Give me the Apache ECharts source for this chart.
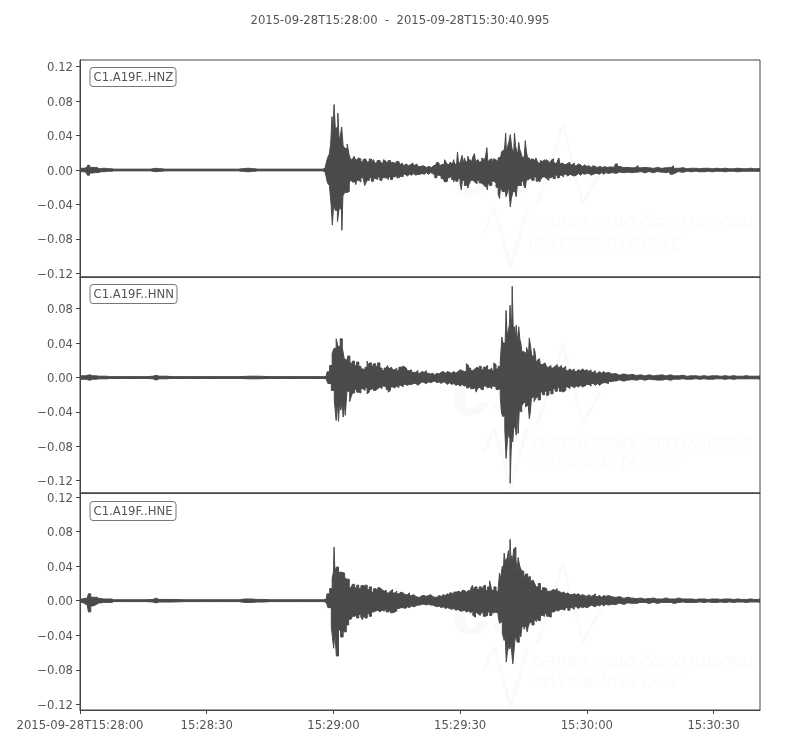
<!DOCTYPE html>
<html><head><meta charset="utf-8">
<style>html,body{margin:0;padding:0;background:#fff}#c{width:800px;height:750px}</style>
<script src="https://cdn.jsdelivr.net/npm/echarts@6/dist/echarts.min.js"></script>
</head><body><div id="c"></div>
<script>
// Envelope of each trace: [seconds after 15:28:00, amplitude in thousandths]
const hiZ=[[0,2],[1,2],[1.6,3],[2,5.5],[2.6,3],[3.5,3],[4.5,1.5],[5.5,2],[6.5,1.5],[7.5,1.5],[8,1],[12,1],[16,1],[17.3,1.5],[18,2],[18.7,1.5],[20,1],[25,1],[30,1],[37,1],[38.2,1.5],[39.5,2],[40.8,1.5],[42,1],[50,1],[57,1],[58,2],[58.4,6],[58.8,14],[59.2,18],[59.5,30],[59.8,62],[60,45],[60.3,76],[60.6,48],[60.9,50],[61.2,66],[61.5,35],[61.8,40],[62.1,50],[62.5,28],[63,25],[63.5,30],[63.9,18],[64.5,13],[65,16],[65.5,11],[66,14],[66.7,10],[67.5,13],[68.2,9],[69,12],[69.8,8],[70.5,11],[71.3,8],[72,12],[72.7,8],[73.5,11],[74.3,7],[75,10],[75.7,8],[76.5,6],[77.3,6.5],[78.2,5],[79,7],[80.4,4],[81.5,5],[82.5,4],[83.6,4.5],[84.2,5],[84.8,8],[85.6,6],[86.4,12],[87,7],[87.5,8],[88.2,7],[88.7,12],[89.2,8],[89.5,21],[90.1,9],[90.7,17],[91.3,10],[91.9,16],[92.6,11],[93.5,19],[94.3,13],[95,10],[95.7,12],[96.4,26],[97.2,12],[98,13],[98.6,11],[99.3,15],[99.8,21],[100.4,20],[100.8,43],[101.1,22],[101.4,27],[102,41],[102.3,25],[102.6,25],[103,43],[103.5,22],[104,32],[104.7,19],[105.2,16],[105.6,34],[106.1,15],[107,13],[108.1,14],[109.2,11],[110.5,12],[111.2,9],[112,13],[113.5,14],[114.4,8],[115.5,9],[116.8,8],[118,7],[120.7,5],[123.1,4],[127,7],[131.8,5],[140.5,5],[161,2]];
const loZ=[[0,-2],[1,-2],[1.5,-3],[2,-6],[2.5,-3.5],[3.5,-3],[5,-2],[6.5,-1.5],[7.5,-1.5],[8,-1],[12,-1],[16,-1],[17.3,-1.5],[18,-2],[18.7,-1.5],[20,-1],[30,-1],[37,-1],[38.2,-1.5],[39.5,-2],[40.8,-1.5],[42,-1],[50,-1],[57,-1],[58,-2],[58.4,-6],[58.8,-15],[59.3,-18],[59.6,-40],[59.9,-64],[60.2,-40],[60.7,-47],[61.2,-60],[61.5,-45],[61.9,-45],[62.1,-70],[62.4,-30],[63,-26],[63.5,-25],[64,-15],[65.3,-17],[67.6,-18],[86.4,-14],[88.7,-14],[90.3,-23],[91.9,-21],[95.8,-19],[96.6,-23],[99.4,-33],[101,-31],[102,-43],[103.3,-31],[105.6,-21],[108.9,-14],[127,-4],[140,-5],[161,-1.5]];
const hiN=[[0,2],[1.4,2],[2,3],[3,2],[4.5,1.5],[6,1.5],[7,1],[14,1],[17.3,1.5],[18,2.5],[18.8,1.5],[22,1],[30,1],[35,1],[40,1.5],[45,1],[52,1],[57,1],[58.3,1.5],[58.7,6.6],[59.5,14],[59.9,28],[60.4,34],[60.9,45],[61.3,36],[61.9,45],[62.3,35],[62.8,22],[63.2,20],[63.6,25],[64.2,18],[68.2,19],[69.2,18],[70.7,17],[72.9,14],[76.5,13],[91.7,16],[98.2,17],[100,47],[100.5,40],[101,78],[101.3,50],[101.6,55],[101.9,84],[102.2,60],[102.4,106],[102.7,60],[102.9,59],[103.3,61],[103.7,40],[104,59],[104.5,40],[105.1,30],[105.7,28],[106.1,32],[106.5,46],[107.1,26],[107.7,34],[108.3,20],[110.1,17],[161,2]];
const loN=[[0,-2],[1.5,-2],[2,-3],[3,-2],[4.5,-1.5],[6,-1.5],[7,-1],[14,-1],[17.3,-1.5],[18,-3],[18.8,-1.5],[22,-1],[30,-1],[35,-1],[40,-1.5],[45,-1],[52,-1],[57,-1],[58.3,-1.5],[59.1,-7],[59.9,-15],[60.5,-26],[60.8,-50],[61.1,-30],[61.3,-51],[61.6,-30],[61.9,-38],[62.2,-28],[62.4,-46],[62.7,-30],[62.9,-44],[63.5,-16],[64.2,-28],[66.2,-19],[68.2,-19],[73.2,-17],[93.9,-17],[99.8,-40],[100.4,-45],[101,-94],[101.4,-60],[101.8,-67],[101.9,-123],[102.3,-70],[102.6,-75],[103.3,-67],[103.7,-36],[104.4,-40],[105.2,-30],[106,-32],[106.5,-48],[107,-24],[108.1,-24],[110.8,-20],[114.4,-17],[161,-2]];
const hiE=[[0,2],[1,2.5],[1.7,3],[2.3,8],[2.8,4],[3.5,4],[4.5,2.5],[5.5,2],[7,2],[8,1],[14,1],[17.3,1.5],[18,3],[18.7,1.5],[25,1],[30,1],[36,1],[39,2],[42,1.5],[45,1],[52,1],[57,1],[58.3,2],[58.7,8],[59.5,14],[59.9,26],[60.1,33],[60.2,62],[60.5,35],[60.9,39],[61.5,33],[62.3,32],[63,27],[63.3,25],[64.2,14],[67,18],[89.1,10],[93.1,18],[95.8,18],[97.2,23],[99.4,32],[100.2,40],[100.6,55],[101.1,44],[101.6,58],[101.9,71],[102.2,45],[102.6,46],[103.2,62],[103.7,32],[104,46],[104.9,34],[106.5,28],[107.7,25],[161,2]];
const loE=[[0,-2],[1,-3],[1.7,-5],[2.3,-13],[2.8,-6],[3.5,-4],[4.5,-2.5],[5.5,-2],[7,-2],[8,-1],[14,-1],[17.3,-1.5],[18,-2.5],[18.7,-1.5],[25,-1],[30,-1],[36,-1],[39,-2],[42,-1.5],[45,-1],[52,-1],[57,-1],[58.3,-2],[59.1,-8],[59.9,-30],[60.2,-55],[60.5,-38],[60.9,-64],[61.5,-34],[61.9,-42],[62.7,-36],[63.4,-28],[63.8,-22],[67,-22],[93.5,-19],[96.2,-19],[99.4,-26],[100.6,-46],[101.1,-71],[101.5,-55],[101.8,-56],[102.7,-73],[103,-50],[103.3,-42],[104.5,-42],[105,-30],[106,-36],[108,-24],[111.4,-19],[161,-2]];
// Finer teeth of each envelope, absolute amplitude: two readings per second from 64 s to 125 s
const midHiZ=[12,15,13,10,13,9,12,14,10,13,9,12,8,11,12,8,10,7,11,8,9,7,10,6,8,5,7,5,6,8,5,7,4,6,5,3,5,4,3,5,6,9,5,8,7,11,6,9,8,6,11,8,12,7,14,9,12,8,15,10,12,9,14,10,15,9,13,8,12,10,14,11,23,28,26,33,30,20,28,18,24,14,16,22,13,10,12,9,11,8,10,12,8,10,7,11,9,7,10,7,8,6,7,9,6,8,5,7,6,4,6,4,5,3,5,4,3,5,4,3,4,3];
const midLoZ=[11,14,10,12,14,9,11,15,12,9,13,10,11,8,12,9,9,11,8,11,8,6,9,7,8,5,7,5,6,4,6,5,5,4,5,3,5,3,4,6,9,6,7,10,9,13,9,7,11,9,13,10,16,12,18,11,17,12,14,16,12,15,17,12,19,14,18,13,15,20,28,19,25,18,27,20,33,25,26,18,18,13,17,12,11,9,12,8,13,10,11,8,10,12,9,7,10,6,9,6,8,5,7,5,6,7,6,4,6,4,5,4,4,6,5,4,4,5,3,5,3,4];
const midHiN=[15,19,14,18,13,10,9,12,14,17,11,16,13,17,11,8,11,13,10,12,9,11,8,12,10,13,11,8,9,6,6,8,5,7,6,8,5,4,5,3,5,4,6,7,5,7,6,5,7,5,7,9,8,7,7,14,11,8,10,12,10,13,9,12,14,9,11,8,15,10,13,18,40,35,50,62,70,55,48,42,45,30,28,35,25,38,24,30,17,22,15,13,15,12,14,11,13,15,12,14,11,13,8,10,8,10,7,9,8,10,8,9,7,9,6,8,5,7,5,7,5,6];
const midLoN=[22,18,14,17,18,13,15,12,17,14,12,15,13,11,13,10,11,14,15,11,12,10,12,9,11,8,9,8,8,7,7,9,7,5,6,7,5,6,5,4,6,5,7,5,6,8,6,8,7,9,8,10,8,10,9,12,10,13,12,14,13,11,14,10,12,11,13,10,11,14,13,22,45,60,78,70,85,60,55,65,38,33,28,34,30,40,22,28,22,26,17,20,16,21,15,19,13,16,12,16,13,15,11,13,10,12,10,11,9,11,10,8,8,10,7,9,7,9,7,6,6,7];
const midHiE=[16,19,15,18,14,17,14,18,13,16,10,14,12,15,13,11,12,9,11,13,9,11,8,10,9,7,7,9,6,7,5,4,4,6,6,5,6,7,5,4,4,6,5,7,6,8,6,9,7,10,8,11,9,12,10,12,11,14,12,16,13,16,14,17,12,16,18,12,16,11,14,25,35,45,50,38,52,60,48,50,40,35,26,31,27,22,24,19,16,20,12,15,14,11,11,13,12,14,11,9,10,8,9,7,7,8,7,8,6,7,6,5,7,5,6,8,5,6,4,6,5,6];
const midLoE=[21,18,17,20,16,19,17,20,15,18,13,12,11,13,11,12,10,13,11,14,13,12,9,8,8,9,7,8,6,7,6,5,5,4,4,5,4,5,5,6,7,6,8,7,9,8,9,10,9,11,10,12,12,11,13,12,14,12,17,13,15,17,14,18,17,13,17,14,13,15,18,24,38,40,60,50,50,60,40,48,38,30,33,28,30,25,28,22,20,23,17,18,15,18,16,13,13,11,12,10,10,11,8,11,8,10,7,9,7,8,7,8,7,5,6,7,5,6,4,6,4,5];
// One reading per second from 125 s to the end
const tailHiZ=[3.5,3,4,3,3,2.5,3,2.5,3,2.5,2,3,2,2.5,3,2,2,2.5,1.5,2,2,1.5,2,2,1.5,2,1.5,2,1.5,1.5,2,1.5,1.5,2,1.5,1.5];
const tailLoZ=[3,3.5,2.5,3,2.5,3,2.5,2,3,2,3,2,2.5,3,2,3.5,2,2.5,1.5,2,1.5,2,2,1.5,2,1.5,1.5,2,1.5,1.5,2,1.5,1.5,1.5,1.5,1.5];
const tailHiN=[4,4.5,3,4,3,3.5,2.5,3,2,3,2,2.5,3,2,3,2,2,2.5,1.5,2,2,1.5,2,1.5,2,2,1.5,2,1.5,2,1.5,1.5,2,1.5,1.5,1.5];
const tailLoN=[4.5,4,3,4,3,2.5,3,2,3,2,2.5,3,3,2,3,2,2,1.5,2,2,1.5,2,1.5,2,2,1.5,1.5,2,1.5,2,1.5,1.5,1.5,1.5,1.5,1.5];
const tailHiE=[4.5,4,4.5,3,4,3,2.5,3,2,2.5,3,2,2,3,2,2,3,2,2,2,1.5,2,2,1.5,2,2,1.5,2,2,1.5,2,1.5,1.5,2,1.5,1.5];
const tailLoE=[4,4.5,3,4,2.5,3,3,2,2,3,2,3,2,2,2,3,2,1.5,2,2,2,1.5,2,1.5,2,2,1.5,2,1.5,2,1.5,1.5,2,1.5,1.5,1.5];
const stations=['C1.A19F..HNZ','C1.A19F..HNN','C1.A19F..HNE'];
const heading='2015-09-28T15:28:00  -  2015-09-28T15:30:40.995';
const yTicks=[-0.12,-0.08,-0.04,0,0.04,0.08,0.12];
const xTicks=[0,30,60,90,120,150];
const xLabels=['2015-09-28T15:28:00','15:28:30','15:29:00','15:29:30','15:30:00','15:30:30'];
const tEnd=160.995;
const yRanges=[[-0.1243,0.1278],[-0.1343,0.1169],[-0.1265,0.1247]];
const traces=[[[hiZ,midHiZ,tailHiZ,1],[loZ,midLoZ,tailLoZ,-1]],[[hiN,midHiN,tailHiN,1],[loN,midLoN,tailLoN,-1]],[[hiE,midHiE,tailHiE,1],[loE,midLoE,tailLoE,-1]]];

const ink='#4a4a4a',txt='#555555',font='DejaVu Sans',fs=11.65;
const boxes=[[60,217],[277,216],[493,217]];
function build(k,mid,tail,sign){
  const all=k.slice();
  mid.forEach((v,i)=>all.push([64.25+i*0.5,sign*v]));
  tail.forEach((v,i)=>all.push([125.5+i,sign*v]));
  all.sort((a,b)=>a[0]-b[0]);
  return all.map(p=>[p[0],p[1]/1000]);
}
const grid=boxes.map(b=>({left:80,width:680,top:b[0],height:b[1],show:true,borderColor:'#444',borderWidth:1,backgroundColor:'transparent'}));
const xAxis=boxes.map((b,i)=>({gridIndex:i,type:'value',min:0,max:tEnd,splitLine:{show:false},
  axisLine:{show:true,onZero:false,lineStyle:{color:'#444'}},
  axisTick:{show:i===2,length:4,customValues:xTicks,lineStyle:{color:'#444'}},
  axisLabel:{show:i===2,customValues:xTicks,color:txt,fontFamily:font,fontSize:fs,margin:10,hideOverlap:false,
    formatter:v=>xLabels[xTicks.indexOf(Math.round(v))]}}));
const yAxis=boxes.map((b,i)=>({gridIndex:i,type:'value',min:yRanges[i][0],max:yRanges[i][1],splitLine:{show:false},
  axisLine:{show:true,onZero:false,lineStyle:{color:'#444'}},
  axisTick:{show:true,length:4,customValues:yTicks,lineStyle:{color:'#444'}},
  axisLabel:{customValues:yTicks,margin:7,hideOverlap:false,
    rich:{v:{color:txt,fontFamily:font,fontSize:fs,padding:[3,0,0,0]}},
    formatter:v=>'{v|'+v.toFixed(2).replace('-','\u2212').replace('\u22120.00','0.00')+'}'}}));
const series=[];
traces.forEach((tr,i)=>tr.forEach((a,j)=>series.push({type:'line',name:stations[i]+(j?' min':' max'),xAxisIndex:i,yAxisIndex:i,
  data:build(a[0],a[1],a[2],a[3]),step:'middle',symbol:'none',showSymbol:false,silent:true,z:3,
  lineStyle:{color:ink,width:1,join:'miter'},areaStyle:{color:ink,opacity:1,origin:j?0.001:-0.001}})));
const title=[{text:heading,left:400,top:15,textAlign:'center',textStyle:{color:txt,fontFamily:font,fontSize:fs,fontWeight:'normal'},padding:0}]
 .concat(stations.map((s,i)=>({text:s,left:90,top:[67,284,501][i],padding:[5,3.5,3,3.5],backgroundColor:'#fff',borderColor:'#777',borderWidth:1,borderRadius:3,
   textStyle:{color:txt,fontFamily:font,fontSize:fs,fontWeight:'normal',lineHeight:12}})));
const faint='#fafafa';
const graphic=[];
[0,220,439].forEach(d=>{
  graphic.push(
   {type:'text',z:1,silent:true,x:452,y:139+d,style:{text:'cs',fill:faint,font:'italic bold 72px "Liberation Sans"'}},
   {type:'polyline',z:1,silent:true,shape:{points:[[537,205+d],[563,125+d],[583,203+d],[601,170+d]]},style:{stroke:faint,fill:null,lineWidth:3,lineJoin:'round'}},
   {type:'polyline',z:1,silent:true,shape:{points:[[484,232+d],[494,208+d],[511,268+d],[527,208+d]]},style:{stroke:faint,fill:null,lineWidth:3,lineJoin:'round'}},
   {type:'text',z:1,silent:true,x:532,y:216+d,scaleX:0.775,style:{text:'CENTRO SISMOLÓGICO NACIONAL',fill:faint,font:'italic 17px "Liberation Sans"'}},
   {type:'text',z:1,silent:true,x:528,y:236+d,scaleX:0.765,style:{text:'UNIVERSIDAD DE CHILE',fill:faint,font:'italic 17px "Liberation Sans"'}});
});
const chart=echarts.init(document.getElementById('c'),null,{renderer:'canvas'});
chart.setOption({animation:false,backgroundColor:'#fff',title,grid,xAxis,yAxis,series,graphic,tooltip:{show:false}});
</script></body></html>
